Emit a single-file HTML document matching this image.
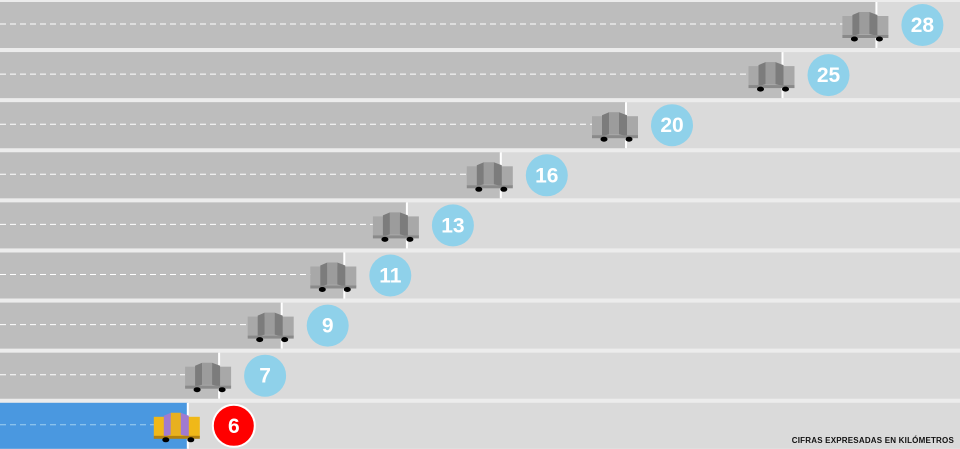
<!DOCTYPE html>
<html><head><meta charset="utf-8"><style>
body{margin:0;background:#ececec;width:960px;height:449px;overflow:hidden;font-family:"Liberation Sans",Arial,sans-serif}
#note{position:absolute;right:6px;bottom:4px;font-size:8px;font-weight:bold;color:#111;letter-spacing:.2px}
</style></head><body>
<svg id="chart" width="960" height="449" style="position:absolute;left:0;top:0"></svg>
<div id="note">CIFRAS EXPRESADAS EN KILÓMETROS</div>
<script>
const values=[28,25,20,16,13,11,9,7,6];
const highlight=[false,false,false,false,false,false,false,false,true];
const NS="http://www.w3.org/2000/svg";
const svg=document.getElementById('chart');
const x=v=>v*31.3;
const rowTop=i=>2+i*50.1;
const rowH=46;
function mk(t,a,p){const e=document.createElementNS(NS,t);for(const k in a)e.setAttribute(k,a[k]);(p||svg).appendChild(e);return e;}
values.forEach((v,i)=>{
  const g=mk('g',{});
  
  
  const y=rowTop(i),end=x(v),hl=highlight[i];
  mk('rect',{x:0,y:y,width:960,height:rowH,fill:'#dadada'},g);
  const b=mk('rect',{x:0,y:y,width:end,height:rowH,fill:hl?'#4a98e0':'#bdbdbd'},g);
  
  
  mk('line',{x1:end,y1:y,x2:end,y2:y+rowH,stroke:'#fff','stroke-width':2},g);
  mk('line',{x1:0,y1:y+22,x2:end-34,y2:y+22,stroke:hl?'#9fd0f0':'#fff','stroke-width':1,'stroke-dasharray':'6,4'},g);
  const cx=end-34,cy=y+10;
  const c1=hl?'#e8b020':'#9c9c9c',c2=hl?'#a07ad0':'#7c7c7c',c3=hl?'#f0b818':'#a8a8a8';
  const car=mk('g',{},g);
  
  
  mk('rect',{x:cx,y:cy+4,width:46,height:20,fill:c3},car);
  mk('polygon',{points:`${cx+10},${cy+3} ${cx+17},${cy} ${cx+17},${cy+22} ${cx+10},${cy+24}`,fill:c2},car);
  mk('polygon',{points:`${cx+17},${cy} ${cx+27},${cy} ${cx+27},${cy+22} ${cx+17},${cy+22}`,fill:c1},car);
  mk('polygon',{points:`${cx+27},${cy} ${cx+35},${cy+3} ${cx+35},${cy+24} ${cx+27},${cy+22}`,fill:c2},car);
  mk('rect',{x:cx,y:cy+23,width:46,height:3,fill:hl?'#b08010':'#8a8a8a'},car);
  mk('ellipse',{cx:cx+12,cy:cy+27,rx:3.5,ry:2.5,fill:'#000'},car);
  mk('ellipse',{cx:cx+37,cy:cy+27,rx:3.5,ry:2.5,fill:'#000'},car);
  const cc=mk('circle',{cx:end+46,cy:y+23,r:21,fill:hl?'#f00':'#8fd1ea',stroke:hl?'#fff':'none','stroke-width':2},g);
  
  
  const t=mk('text',{x:end+46,y:y+30,'text-anchor':'middle','font-size':21,'font-weight':'bold',fill:'#fff','font-family':'Liberation Sans, Arial, sans-serif'},g);
  t.textContent=v;
  
  
});
</script>
</body></html>
